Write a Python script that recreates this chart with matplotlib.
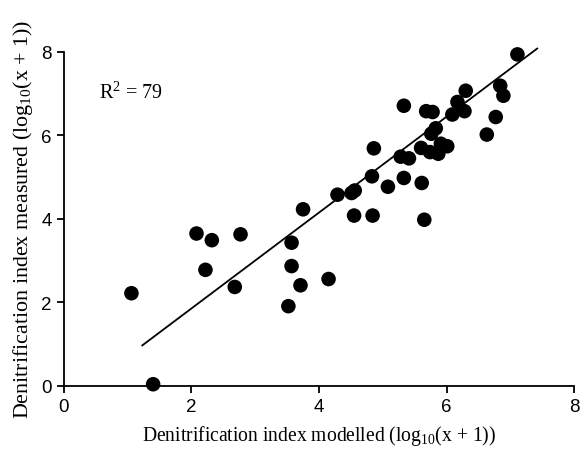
import numpy as np
import matplotlib
matplotlib.use('Agg')
import matplotlib.pyplot as plt

plt.rcParams['mathtext.fontset'] = 'custom'
plt.rcParams['mathtext.rm'] = 'Liberation Serif'
plt.rcParams['mathtext.it'] = 'Liberation Serif:italic'

# modelled vs measured (log10(x+1))
modelled = [1.06, 1.40, 2.08, 2.32, 2.22, 2.77, 2.68, 3.75, 3.57, 3.57, 3.71, 3.52,
            4.15, 4.29, 4.51, 4.56, 4.55, 4.84, 4.83, 4.86, 5.08, 5.33, 5.28, 5.41,
            5.33, 5.61, 5.65, 5.60, 5.68, 5.78, 5.74, 5.87, 5.83, 5.76, 5.91, 6.01,
            6.09, 6.17, 6.28, 6.30, 6.63, 6.77, 6.84, 6.89, 7.11]
measured = [2.22, 0.04, 3.65, 3.49, 2.78, 3.63, 2.37, 4.23, 3.43, 2.87, 2.41, 1.91,
            2.56, 4.58, 4.62, 4.68, 4.08, 4.08, 5.02, 5.69, 4.77, 4.98, 5.49, 5.45,
            6.71, 4.86, 3.98, 5.70, 6.58, 6.56, 5.60, 5.56, 6.17, 6.04, 5.80, 5.74,
            6.50, 6.80, 6.58, 7.07, 6.02, 6.44, 7.19, 6.95, 7.94]
fit_x = [1.23, 7.42]
fit_y = [0.97, 8.08]
r2_text = 'R$^2$ = 79'

fig = plt.figure(figsize=(5.8, 4.52), dpi=100)
ax = fig.add_axes([0.110, 0.144, 0.880, 0.739])

ax.scatter(modelled, measured, s=110, c='black', edgecolors='none', zorder=3,
           clip_on=False)
ax.plot(fit_x, fit_y, color='black', lw=1.3, zorder=2, clip_on=False)
ax.text(0.55, 7.04, r2_text, fontsize=14.5, family='Liberation Serif', va='center')

ax.set_xlim(0, 8)
ax.set_ylim(0, 8)
ax.set_xticks([0, 2, 4, 6, 8])
ax.set_yticks([0, 2, 4, 6, 8])
ax.spines['top'].set_visible(False)
ax.spines['right'].set_visible(False)
for s in ['left', 'bottom']:
    ax.spines[s].set_linewidth(1.3)
ax.tick_params(direction='out', length=5, width=1.3, labelsize=13.5)
for lab in ax.get_xticklabels() + ax.get_yticklabels():
    lab.set_family('Liberation Sans')

ax.set_xlabel('Denitrification index modelled (log$_{10}$(x + 1))',
              family='Liberation Serif', fontsize=14.1, labelpad=6)
ax.set_ylabel('Denitrification index measured (log$_{10}$(x + 1))',
              family='Liberation Serif', fontsize=15.8, labelpad=5)

fig.savefig('out.png', dpi=100)
